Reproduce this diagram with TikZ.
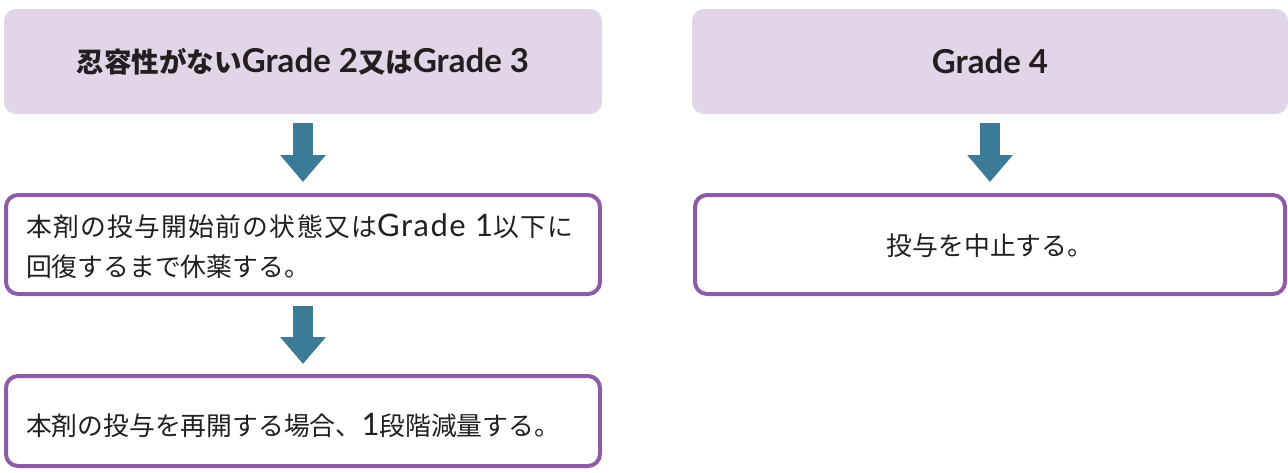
\documentclass[tikz,border=0pt]{standalone}
\usepackage{fontspec}
\setmainfont{Noto Sans CJK JP}
\newfontfamily\latf[Scale=1.2]{Lato}
\usetikzlibrary{arrows.meta}
\definecolor{hdrfill}{HTML}{E1D5E8}
\definecolor{boxline}{HTML}{8E5CA6}
\definecolor{arrowc}{HTML}{3B7B98}
\definecolor{txt}{HTML}{231F20}
\newcommand{\lt}[1]{{\latf #1}}
\newcommand{\ltsp}[1]{{\latf\addfontfeature{LetterSpace=5}#1}}
\begin{document}
\begin{tikzpicture}[x=1pt,y=-1pt,
  hdr/.style={fill=hdrfill, rounded corners=12pt, inner sep=0pt, text=txt,
    font=\fontsize{27.5}{32}\selectfont\bfseries, minimum height=105pt},
  bodybox/.style={draw=boxline, line width=4pt, rounded corners=12pt, fill=white, inner sep=0pt},
  bodytxt/.style={text=txt, inner sep=0pt, align=left, font=\fontsize{25.8}{40}\selectfont},
  flow/.style={draw=arrowc, line width=20pt, -{Triangle[width=44pt,length=27pt]}}]
\useasboundingbox (0,0) rectangle (1288,472);
\node[hdr, minimum width=598pt] (h1) at (303,61.5) {忍容性がない\lt{\bfseries Grade 2}又は\lt{\bfseries Grade 3}};
\node[hdr, minimum width=596pt] (h2) at (990,61.5) {\lt{\bfseries Grade 4}};
\node[bodybox, minimum width=594pt, minimum height=99pt] (b1) at (303,244.5) {};
\node[bodytxt, anchor=west, xshift=22pt, yshift=-2pt] (b1t) at (b1.west)
  {{\addfontfeature{LetterSpace=5}本剤の投与開始前の状態又は\ltsp{Grade 1}以下に}\\回復するまで休薬する。};
\node[bodybox, minimum width=594pt, minimum height=90pt] (b2) at (303,421) {};
\node[bodytxt, anchor=west, xshift=22pt, yshift=-4pt] (b2t) at (b2.west)
  {本剤の投与を再開する場合、\lt{1}段階減量する。};
\node[bodybox, minimum width=590pt, minimum height=99pt] (b3) at (990,244.5) {};
\node[bodytxt, yshift=-1pt] (b3t) at (b3.center) {投与を中止する。};
\draw[flow, shorten <=9pt, shorten >=11pt] (h1.south) -- (b1.north);
\draw[flow, shorten <=10pt, shorten >=10pt] (b1.south) -- (b2.north);
\draw[flow, shorten <=9pt, shorten >=11pt] (h2.south) -- (b3.north);
\end{tikzpicture}
\end{document}
